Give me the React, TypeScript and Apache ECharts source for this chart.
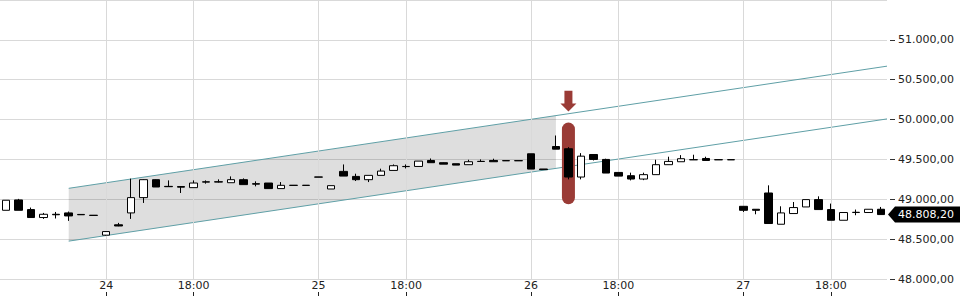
import React, { useEffect, useRef } from "react";
import * as echarts from "echarts";

// ---- data ----
const sessionHours = ["11:00","12:00","13:00","14:00","15:00","16:00","17:00","18:00","19:00","20:00","21:00","22:00","23:00","00:00","01:00","02:00","03:00"];
const categories: string[] = [
  ...sessionHours.slice(9).map((h) => "23 " + h),
  ...sessionHours.map((h) => "24 " + h),
  ...sessionHours.map((h) => "25 " + h),
  ...sessionHours.map((h) => "26 " + h),
  ...sessionHours.slice(0, 12).map((h) => "27 " + h),
];

const opens = [48862,48992,48871,48771,48812,48829,48810,48800,48550,48680,48829,49021,49246,49162,49160,49146,49215,49220,49208,49246,49196,49204,49134,49176,49176,49280,49129,49350,49287,49246,49300,49362,49410,49412,49487,49459,49446,49434,49476,49487,49485,49485,49571,49380,49662,49634,49279,49562,49500,49337,49296,49254,49309,49434,49471,49497,49512,49497,49497,48912,48875,49079,48687,48821,48904,48996,48871,48737,48834,48834,48875];
const closes = [48988,48862,48771,48812,48806,48791,48806,48797,48595,48665,49021,49246,49154,49158,49152,49204,49220,49216,49246,49184,49190,49134,49175,49174,49174,49278,49171,49291,49246,49300,49354,49421,49412,49479,49459,49441,49429,49471,49474,49471,49483,49483,49379,49372,49629,49279,49541,49500,49329,49291,49254,49309,49434,49475,49509,49495,49487,49495,49495,48862,48862,48696,48829,48896,48996,48871,48737,48834,48837,48875,48808.2];
const lows = [48862,48862,48771,48754,48759,48729,48806,48797,48545,48662,48754,48954,49154,49158,49079,49146,49196,49210,49208,49184,49162,49134,49134,49174,49174,49278,49129,49291,49229,49216,49300,49362,49387,49412,49459,49441,49429,49434,49474,49471,49483,49483,49379,49372,49629,49250,49250,49487,49329,49291,49237,49240,49309,49434,49471,49495,49487,49495,49495,48841,48812,48696,48687,48821,48904,48871,48737,48737,48800,48834,48808.2];
const highs = [48988,49005,48896,48829,48841,48846,48810,48800,48600,48704,49259,49250,49250,49237,49162,49237,49237,49250,49287,49262,49225,49204,49216,49176,49176,49280,49171,49437,49321,49300,49384,49437,49437,49479,49512,49462,49446,49496,49500,49509,49485,49485,49571,49380,49800,49654,49579,49562,49509,49337,49334,49334,49496,49534,49554,49559,49534,49497,49497,48912,48875,49175,48912,48966,48996,49037,48946,48834,48871,48875,48904];

const xTickIndex = [8, 15, 25, 32, 42, 49, 59, 66];
const xTickText = ["24", "18:00", "25", "18:00", "26", "18:00", "27", "18:00"];

// trend channel (x in candle index units, y in price)
const channelUpper = [[5, 49137.5], [70.5, 50670]];
const channelLower = [[5, 48475], [70.5, 50008]];
// shaded part of the channel: [x, lower, upper]
const bandPoints = [[5, 48475, 49137.5], [44, 49388, 50050]];

const highlightIndex = 45;
const highlightRange = [48938, 49962];
const arrowRange = [50100, 50362];
const lastClose = closes[closes.length - 1];

const fmt = (v: number) => {
  const [i, d] = v.toFixed(2).split(".");
  return i.replace(/\B(?=(\d{3})+(?!\d))/g, ".") + "," + d;
};

const FONT = "DejaVu Sans";
const GRID_COLOR = "#d9d9d9";
const TEAL = "#5f9fa6";
const RED = "#9a3b36";

export default function App() {
  const ref = useRef<HTMLDivElement>(null);
  useEffect(() => {
    const chart = echarts.init(ref.current!, null, { renderer: "svg" });
    const ohlc = opens.map((o, i) => [o, closes[i], lows[i], highs[i]]);
    const tickSet = new Set(xTickIndex);
    const labelOf = (idx: number) => {
      const k = xTickIndex.indexOf(idx);
      return k >= 0 ? xTickText[k] : "";
    };
    const option: any = {
      animation: false,
      grid: { left: 0, right: 73, top: -1, bottom: 21 },
      xAxis: [
        {
          type: "category",
          data: categories,
          boundaryGap: true,
          axisLine: { show: false, onZero: false },
          axisTick: { show: false },
          splitLine: { show: false },
          axisLabel: {
            interval: (i: number) => tickSet.has(i),
            formatter: (_v: string, i: number) => labelOf(i),
            margin: 1,
            fontSize: 11,
            fontFamily: FONT,
            color: "#222",
          },
        },
        {
          type: "category",
          data: categories,
          boundaryGap: true,
          position: "bottom",
          offset: 13,
          axisLine: { show: false, onZero: false },
          axisTick: {
            show: true,
            alignWithLabel: true,
            interval: (i: number) => tickSet.has(i),
            length: 4,
            lineStyle: { color: "#222" },
          },
          axisLabel: { show: false },
          splitLine: { show: false },
        },
        {
          type: "value",
          min: -0.5,
          max: 70.5,
          show: false,
          axisLine: { onZero: false },
        },
      ],
      yAxis: {
        type: "value",
        position: "right",
        min: 48000,
        max: 51500,
        interval: 500,
        offset: 3,
        axisLine: { show: false, onZero: false },
        axisTick: { show: true, length: 5, lineStyle: { color: "#333" } },
        axisLabel: {
          margin: 8,
          fontSize: 11,
          fontFamily: FONT,
          color: "#222",
          formatter: (v: number) => fmt(v),
          showMaxLabel: false,
        },
        splitLine: { show: true, lineStyle: { color: GRID_COLOR, width: 1 } },
      },
      series: [
        {
          type: "custom",
          xAxisIndex: 2,
          data: bandPoints,
          z: 1,
          silent: true,
          renderItem: (params: any, api: any) => {
            if (params.dataIndex !== 0) return null;
            const pts = [
              ...bandPoints.map((p) => api.coord([p[0], p[1]])),
              ...bandPoints.slice().reverse().map((p) => api.coord([p[0], p[2]])),
            ];
            return {
              type: "polygon",
              shape: { points: pts },
              style: { fill: "rgba(0,0,0,0.13)" },
            };
          },
          markLine: {
            silent: true,
            symbol: "none",
            label: { show: false },
            lineStyle: { color: GRID_COLOR, type: "solid", width: 1 },
            data: xTickIndex.map((i) => ({ xAxis: i })),
          },
        },
        {
          type: "line",
          xAxisIndex: 2,
          data: channelUpper,
          symbol: "none",
          lineStyle: { color: TEAL, width: 1 },
          z: 2,
          silent: true,
        },
        {
          type: "line",
          xAxisIndex: 2,
          data: channelLower,
          symbol: "none",
          lineStyle: { color: TEAL, width: 1 },
          z: 2,
          silent: true,
        },
        {
          type: "candlestick",
          xAxisIndex: 0,
          data: ohlc,
          barWidth: 8,
          z: 10,
          itemStyle: {
            color: "#ffffff",
            color0: "#000000",
            borderColor: "#000000",
            borderColor0: "#000000",
            borderWidth: 1,
          },
        },
      ],
    };
    chart.setOption(option);

    const px = (i: number, v: number) =>
      chart.convertToPixel({ xAxisIndex: 0, yAxisIndex: 0 }, [i, v]) as number[];
    const [hx, hTop] = px(highlightIndex, highlightRange[1]);
    const [, hBot] = px(highlightIndex, highlightRange[0]);
    const [, aTip] = px(highlightIndex, arrowRange[0]);
    const [, aTop] = px(highlightIndex, arrowRange[1]);
    const [, ty] = px(70, lastClose);
    const right = chart.getWidth() - 73;
    const headH = 8;

    chart.setOption({
      graphic: [
        {
          type: "rect",
          z: 3,
          shape: { x: hx - 6.5, y: hTop, width: 13, height: hBot - hTop, r: 6.5 },
          style: { fill: RED },
          silent: true,
        },
        {
          type: "polygon",
          z: 3,
          shape: {
            points: [
              [hx - 4, aTop],
              [hx + 4, aTop],
              [hx + 4, aTip - headH],
              [hx + 8, aTip - headH],
              [hx, aTip],
              [hx - 8, aTip - headH],
              [hx - 4, aTip - headH],
            ],
          },
          style: { fill: RED },
          silent: true,
        },
        {
          type: "polygon",
          z: 100,
          shape: {
            points: [
              [right + 1, ty],
              [right + 8, ty - 8],
              [960, ty - 8],
              [960, ty + 8],
              [right + 8, ty + 8],
            ],
          },
          style: { fill: "#000" },
          silent: true,
        },
        {
          type: "text",
          z: 101,
          x: right + 11,
          y: ty,
          style: {
            text: fmt(lastClose),
            fill: "#fff",
            font: "11px 'DejaVu Sans'",
            verticalAlign: "middle",
            align: "left",
          },
          silent: true,
        },
      ],
    });
    return () => chart.dispose();
  }, []);
  return (
    <div
      ref={ref}
      style={{ position: "fixed", left: 0, top: 0, width: 960, height: 300, background: "#fff" }}
    />
  );
}
